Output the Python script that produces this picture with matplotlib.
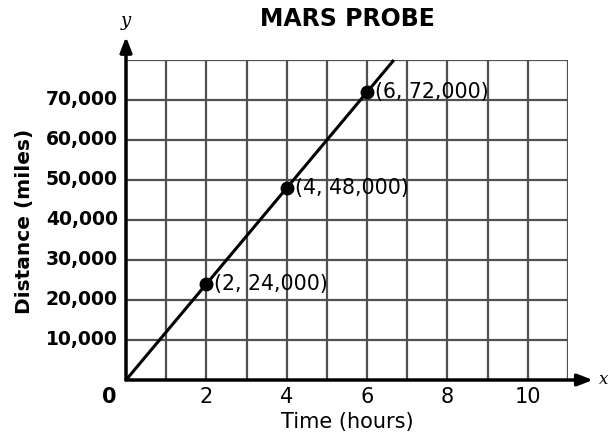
import matplotlib
matplotlib.use("Agg")
import matplotlib.pyplot as plt
import numpy as np

plt.rcParams['font.family'] = ['DejaVu Sans']

# Data
times = [0, 2, 4, 6]
distances = [0, 24000, 48000, 72000]
labeled_points = [(2, 24000), (4, 48000), (6, 72000)]
x_tick_values = [2, 4, 6, 8, 10]
y_tick_values = [10000, 20000, 30000, 40000, 50000, 60000, 70000]
title = "MARS PROBE"
xlabel = "Time (hours)"
ylabel = "Distance (miles)"

xmax, ymax = 11, 80000

fig = plt.figure(figsize=(6.08, 4.41), dpi=100)
ax = fig.add_axes([126/608, 61/441, 442/608, 320/441])
ax.set_xlim(0, xmax)
ax.set_ylim(0, ymax)

grid_c = '#505050'
for gx in range(1, xmax + 1):
    ax.axvline(gx, color=grid_c, lw=1.6, zorder=1)
for gy in range(10000, ymax + 1, 10000):
    ax.axhline(gy, color=grid_c, lw=1.6, zorder=1)

for s in ax.spines.values():
    s.set_visible(False)
ax.set_xticks([])
ax.set_yticks([])

# axes with arrows
ax.annotate('', xy=(11.62, 0), xytext=(0, 0), xycoords='data',
            arrowprops=dict(arrowstyle='-|>,head_length=0.9,head_width=0.35', color='black', lw=2.5,
                            shrinkA=0, shrinkB=0), annotation_clip=False, zorder=5)
ax.annotate('', xy=(0, 85800), xytext=(0, 0), xycoords='data',
            arrowprops=dict(arrowstyle='-|>,head_length=0.9,head_width=0.35', color='black', lw=2.5,
                            shrinkA=0, shrinkB=0), annotation_clip=False, zorder=5)
ax.text(11.76, 0, 'x', fontsize=12, style='italic', family='DejaVu Serif', ha='left', va='center',
        clip_on=False)
ax.text(0, 89800, 'y', fontsize=13, style='italic', family='DejaVu Serif', ha='center', va='center',
        clip_on=False)

# line through data, extended to top of grid
slope = np.polyfit(times, distances, 1)[0]
x_end = ymax / slope
ax.plot([times[0], x_end], [distances[0], slope * x_end], color='black', lw=2.2, zorder=3,
        clip_on=False, solid_capstyle='butt')
px = [p[0] for p in labeled_points]
py = [p[1] for p in labeled_points]
ax.plot(px, py, 'o', color='black', ms=9, zorder=4)
for x, y in labeled_points:
    ax.text(x + 0.2, y, f"({x}, {y:,})", fontsize=14.8, ha='left', va='center', zorder=6)

# tick labels
for xv in x_tick_values:
    ax.text(xv, -4300, str(xv), fontsize=15, ha='center', va='center', clip_on=False)
ax.text(-0.42, -4300, '0', fontsize=15, fontweight='bold', ha='center', va='center', clip_on=False)
for yv in y_tick_values:
    ax.text(-0.2, yv, f"{yv:,}", fontsize=13.5, fontweight='bold', ha='right', va='center',
            clip_on=False)

fig.text(347/608, 1 - 422/441, xlabel, fontsize=15, ha='center', va='center')
fig.text(25/608, 1 - 221/441, ylabel, fontsize=14.5, fontweight='bold', rotation=90,
         ha='center', va='center')
fig.text(347/608, 1 - 19/441, title, fontsize=17, fontweight='bold', ha='center', va='center')

fig.savefig('out.png', dpi=100)
